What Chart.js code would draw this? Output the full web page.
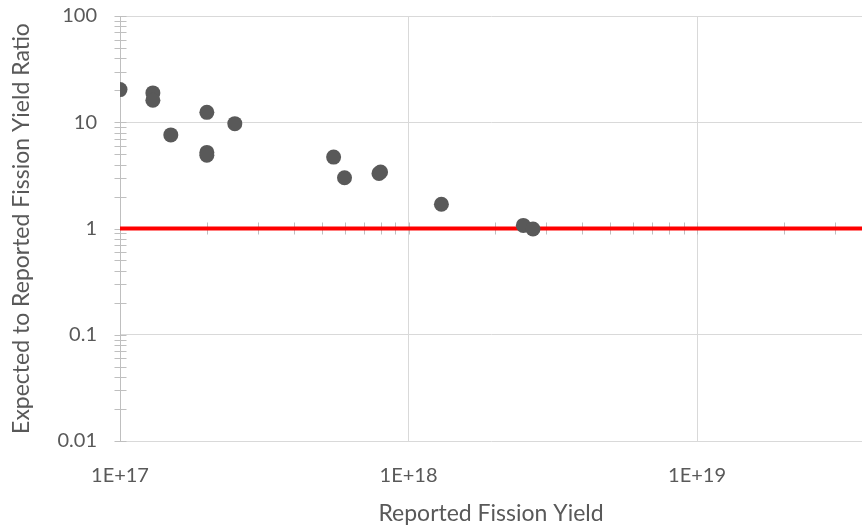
<!DOCTYPE html>
<html>
<head>
<meta charset="utf-8">
<script src="https://cdn.jsdelivr.net/npm/chart.js@4.4.1/dist/chart.umd.min.js"></script>
<style>
  html, body { margin: 0; padding: 0; background: #ffffff; }
  #wrap { width: 862px; height: 529px; }
</style>
</head>
<body>
<div id="wrap"><canvas id="c" width="862" height="529"></canvas></div>
<script>
// Reported fission yield (x) vs expected/reported ratio (y)
const reportedYield = [1.0e17, 1.3e17, 1.3e17, 1.5e17, 2.0e17, 2.0e17, 2.0e17, 2.5e17,
                       5.5e17, 6.0e17, 7.9e17, 8.0e17, 1.3e18, 2.5e18, 2.7e18];
const yieldRatio    = [20.3, 18.9, 16.1, 7.6, 12.4, 5.2, 4.9, 9.7,
                       4.7, 3.0, 3.3, 3.4, 1.69, 1.07, 0.99];

const xMajorTicks = [1e17, 1e18, 1e19];
const yMajorTicks = [0.01, 0.1, 1, 10, 100];
const xRange = [1e17, 3.73e19];
const yRange = [0.01, 100];
const unityLine = 1;

const points = reportedYield.map((x, i) => ({ x: x, y: yieldRatio[i] }));

const labelColor = '#595959';
const gridColor = '#d9d9d9';
const axisColor = '#bfbfbf';
const fontFamily = 'Lato, "Open Sans", sans-serif';

// Minor tick marks: on the y axis line and along the y = 1 line
const minorTicks = {
  id: 'minorTicks',
  beforeDatasetsDraw(chart) {
    const ctx = chart.ctx;
    const xs = chart.scales.x, ys = chart.scales.y;
    const half = 6;
    ctx.save();
    ctx.strokeStyle = axisColor;
    ctx.lineWidth = 1;
    ctx.beginPath();
    // y axis ticks
    const x0 = Math.round(xs.getPixelForValue(xRange[0])) + 0.5;
    for (let e = -2; e <= 2; e++) {
      for (let m = 1; m <= 9; m++) {
        const v = m * Math.pow(10, e);
        if (v > yRange[1] * 1.0001) continue;
        const py = Math.round(ys.getPixelForValue(v)) + 0.5;
        ctx.moveTo(x0 - half, py);
        ctx.lineTo(x0 + half, py);
      }
    }
    // x ticks along unity line
    const py1 = ys.getPixelForValue(unityLine);
    for (let e = 17; e <= 19; e++) {
      for (let m = 1; m <= 9; m++) {
        const v = m * Math.pow(10, e);
        if (v > xRange[1]) continue;
        const px = Math.round(xs.getPixelForValue(v)) + 0.5;
        ctx.moveTo(px, py1 - half);
        ctx.lineTo(px, py1 + half);
      }
    }
    ctx.stroke();
    ctx.restore();
  }
};

new Chart(document.getElementById('c'), {
  type: 'scatter',
  data: {
    datasets: [
      {
        label: 'Ratio',
        data: points,
        backgroundColor: '#595959',
        borderWidth: 0,
        pointRadius: 7.5,
        pointHoverRadius: 7.5,
        order: 0
      },
      {
        label: 'Unity',
        type: 'line',
        data: [{ x: xRange[0], y: unityLine }, { x: xRange[1], y: unityLine }],
        borderColor: '#ff0000',
        borderWidth: 4,
        pointRadius: 0,
        fill: false,
        order: 1
      }
    ]
  },
  options: {
    responsive: false,
    animation: false,
    events: [],
    layout: { autoPadding: false, padding: { top: 16, right: 0, left: 0, bottom: 0 } },
    plugins: { legend: { display: false }, tooltip: { enabled: false } },
    scales: {
      x: {
        type: 'logarithmic',
        min: xRange[0],
        max: xRange[1],
        afterBuildTicks(scale) { scale.ticks = xMajorTicks.map(v => ({ value: v })); },
        afterFit(scale) {
          scale.height = 88;
          scale.paddingLeft = 0;
          scale.paddingRight = 0;
        },
        border: { display: false },
        grid: { color: gridColor, lineWidth: 1, drawTicks: false },
        ticks: {
          color: labelColor,
          font: { family: fontFamily, size: 20 },
          padding: 23,
          maxRotation: 0,
          autoSkip: false,
          callback: (v) => '1E+' + Math.round(Math.log10(v))
        },
        title: {
          display: true,
          text: 'Reported Fission Yield',
          color: labelColor,
          font: { family: fontFamily, size: 23 },
          padding: { top: 0, bottom: 2 }
        }
      },
      y: {
        type: 'logarithmic',
        min: yRange[0],
        max: yRange[1],
        afterBuildTicks(scale) { scale.ticks = yMajorTicks.map(v => ({ value: v })); },
        afterFit(scale) {
          scale.width = 120;
          scale.paddingTop = 0;
          scale.paddingBottom = 0;
        },
        border: { display: true, color: axisColor, width: 1 },
        grid: { color: gridColor, lineWidth: 1, drawTicks: false },
        ticks: {
          color: labelColor,
          font: { family: fontFamily, size: 20 },
          padding: 23,
          autoSkip: false,
          callback: (v) => String(v)
        },
        title: {
          display: true,
          text: 'Expected to Reported Fission Yield Ratio',
          color: labelColor,
          font: { family: fontFamily, size: 23 },
          padding: { top: 8, bottom: 0 }
        }
      }
    }
  },
  plugins: [minorTicks]
});
</script>
</body>
</html>
